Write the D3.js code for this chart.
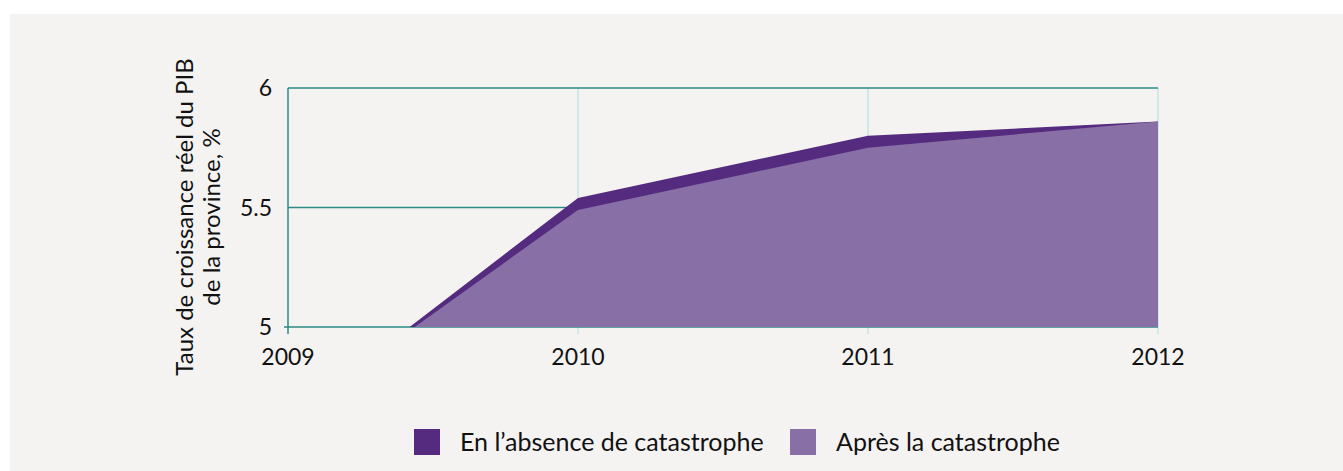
<!DOCTYPE html>
<html>
<head>
<meta charset="utf-8">
<script src="https://cdn.jsdelivr.net/npm/d3@7"></script>
<style>
  body { margin: 0; background: #ffffff; }
  svg text { font-family: Lato, "Open Sans", sans-serif; fill: #111; }
</style>
</head>
<body>
<svg id="chart" width="1343" height="471"></svg>
<script>
// values
var years = [2009, 2010, 2011, 2012];
var noCatastrophe = [4.61, 5.54, 5.80, 5.86];
var afterCatastrophe = [4.62, 5.49, 5.75, 5.86];
var yTicks = [5, 5.5, 6];
var seriesNames = ["En l\u2019absence de catastrophe", "Apr\u00e8s la catastrophe"];
var seriesColors = ["#552b7f", "#8870a6"];

var svg = d3.select("#chart");
var plotL = 288, plotR = 1158, plotT = 88, plotB = 327;

// grey panel
svg.append("rect").attr("x", 10).attr("y", 14).attr("width", 1333).attr("height", 457).attr("fill", "#f4f3f1");

var x = d3.scaleLinear().domain([2009, 2012]).range([plotL, plotR]);
var y = d3.scaleLinear().domain([5, 6]).range([plotB, plotT]);

svg.append("clipPath").attr("id", "plotclip")
  .append("rect").attr("x", plotL).attr("y", plotT).attr("width", plotR - plotL).attr("height", plotB - plotT);

// vertical grid (light)
svg.selectAll(".vgrid").data(years.slice(1)).enter().append("line")
  .attr("x1", function(d){ return x(d); }).attr("x2", function(d){ return x(d); })
  .attr("y1", plotT).attr("y2", plotB + 7)
  .attr("stroke", "#c3e4e5").attr("stroke-width", 1.5);

// horizontal grid (dark teal)
svg.selectAll(".hgrid").data(yTicks).enter().append("line")
  .attr("x1", function(d){ return d == 5 ? plotL - 4 : plotL; }).attr("x2", plotR)
  .attr("y1", function(d){ return y(d); }).attr("y2", function(d){ return y(d); })
  .attr("stroke", "#2c8a86").attr("stroke-width", 1.5);

// left axis line
svg.append("line").attr("x1", plotL).attr("x2", plotL).attr("y1", plotT).attr("y2", plotB + 7)
  .attr("stroke", "#2c8a86").attr("stroke-width", 1.5);

var area = function(vals){
  return d3.area()
    .x(function(d, i){ return x(years[i]); })
    .y0(y(5))
    .y1(function(d){ return y(d); })(vals);
};

var g = svg.append("g").attr("clip-path", "url(#plotclip)");
g.append("path").attr("d", area(noCatastrophe)).attr("fill", seriesColors[0]);
g.append("path").attr("d", area(afterCatastrophe)).attr("fill", seriesColors[1]);

// y tick labels
svg.selectAll(".ylab").data(yTicks).enter().append("text")
  .attr("x", plotL - 16).attr("y", function(d){ return y(d); })
  .attr("dy", "0.35em").attr("text-anchor", "end")
  .style("font-size", "23px")
  .text(function(d){ return d; });

// x tick labels
svg.selectAll(".xlab").data(years).enter().append("text")
  .attr("x", function(d){ return x(d); }).attr("y", 357)
  .attr("dy", "0.35em").attr("text-anchor", "middle")
  .style("font-size", "23px")
  .text(function(d){ return d; });

// y axis title
var title = svg.append("text").attr("transform", "translate(185,217) rotate(-90)")
  .attr("text-anchor", "middle").style("font-size", "24px");
title.append("tspan").attr("x", 0).attr("dy", "0.35em").text("Taux de croissance r\u00e9el du PIB");
title.append("tspan").attr("x", 0).attr("dy", "1.1em").text("de la province, %");

// legend
var legX = [414, 790];
seriesNames.forEach(function(name, i){
  svg.append("rect").attr("x", legX[i]).attr("y", 429).attr("width", 26).attr("height", 26).attr("fill", seriesColors[i]);
  svg.append("text").attr("x", legX[i] + 46).attr("y", 442).attr("dy", "0.35em")
    .style("font-size", "25px").text(name);
});
</script>
</body>
</html>
